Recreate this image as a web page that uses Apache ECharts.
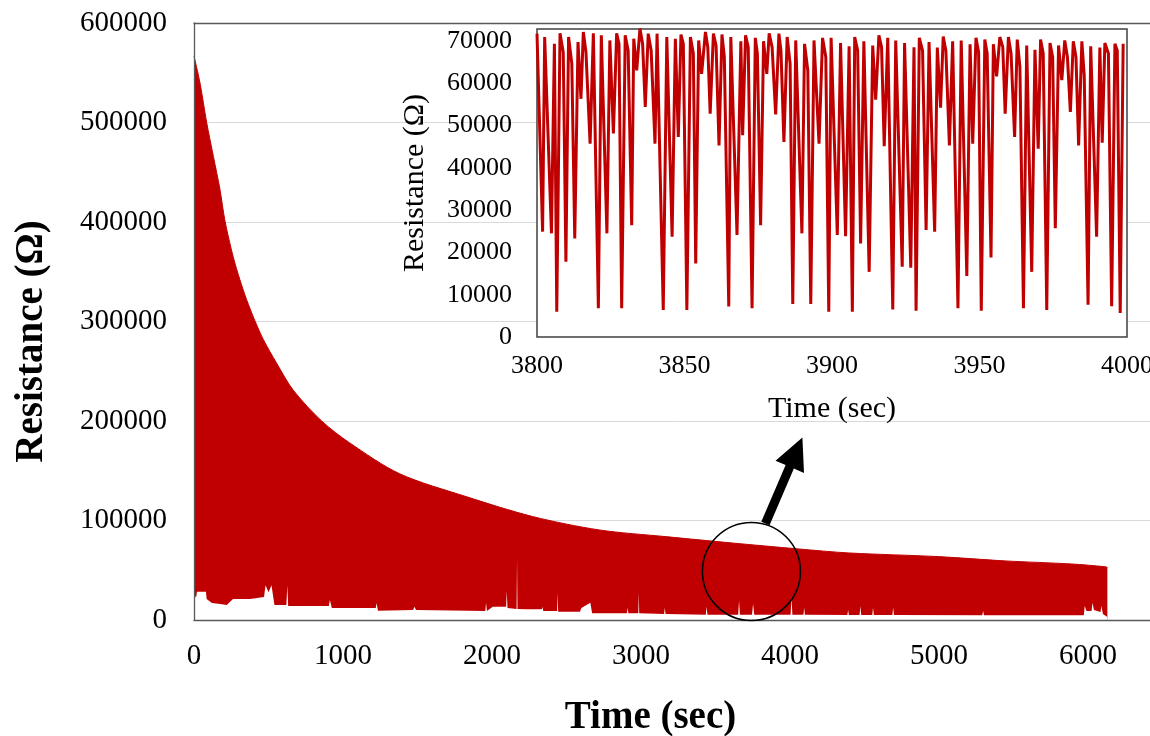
<!DOCTYPE html>
<html><head><meta charset="utf-8">
<script src="https://cdn.jsdelivr.net/npm/echarts@6/dist/echarts.min.js"></script>
<style>html,body{margin:0;padding:0;background:#fff;}#c{width:1150px;height:736px;}</style>
</head><body><div id="c"></div>
<script>
// ---- Main chart: upper envelope of the dense oscillation (sec, Ohm) ----
const upperTime = [0, 40, 85, 130, 174, 208, 263, 308, 353, 408, 465, 555, 666, 857, 1045, 1380, 1827, 2272, 2720, 3166, 3612, 4059, 4394, 4997, 5443, 5890, 6113, 6130];
const upperValue = [567000, 540000, 500000, 466000, 433000, 401000, 365000, 342000, 322000, 301000, 282000, 258000, 231000, 200000, 178000, 147000, 124000, 104000, 90500, 83800, 77400, 71400, 67400, 63700, 59400, 56300, 53600, 53000];
// ---- Main chart: lower envelope (minima) ----
const lowerTime = [0, 15, 20, 80, 85, 120, 175, 220, 262, 376, 470, 480, 500, 520, 540, 620, 626, 632, 905, 912, 925, 1220, 1225, 1235, 1470, 1480, 1490, 1955, 1960, 1966, 2005, 2075, 2095, 2099, 2104, 2165, 2168, 2171, 2230, 2335, 2339, 2344, 2437, 2440, 2444, 2590, 2600, 2660, 2666, 2672, 2905, 2910, 2915, 2982, 2985, 2988, 3155, 3160, 3165, 3435, 3440, 3446, 3652, 3658, 3664, 3745, 3752, 3760, 4004, 4010, 4016, 4090, 4095, 4100, 4385, 4390, 4395, 4467, 4472, 4478, 4552, 4557, 4563, 4687, 4692, 4698, 5290, 5296, 5302, 5972, 5978, 5990, 6024, 6030, 6040, 6084, 6090, 6100, 6130];
const lowerValue = [23400, 23400, 28500, 28500, 21000, 17000, 16000, 15000, 21000, 21000, 23000, 35000, 28000, 35000, 15000, 15000, 35000, 14000, 14000, 20000, 12000, 12000, 17000, 9400, 10000, 13400, 10000, 9000, 17400, 9000, 13400, 13400, 13400, 29500, 12000, 11000, 62000, 11000, 10700, 10700, 13400, 9000, 9000, 27500, 8400, 8400, 12000, 17400, 17400, 6700, 6700, 12400, 6700, 6700, 27800, 6700, 6000, 12400, 6000, 5300, 13400, 5300, 5300, 19000, 5300, 5300, 16000, 5300, 5300, 23400, 5300, 5300, 12400, 5300, 5000, 10000, 5000, 5000, 14000, 5000, 5000, 12400, 5000, 5000, 12400, 5000, 4700, 9000, 4700, 4700, 14000, 9000, 9000, 17400, 10000, 8000, 14000, 6000, 3000];
// ---- Inset: 3800-4000 sec detail ----
const insetTime = [3800.0, 3801.9, 3802.6, 3804.9, 3805.9, 3806.7, 3807.8, 3808.9, 3809.8, 3810.7, 3811.8, 3812.8, 3813.9, 3814.9, 3815.7, 3816.6, 3818.0, 3819.1, 3820.8, 3821.8, 3823.7, 3824.7, 3825.9, 3827.0, 3827.8, 3828.7, 3829.9, 3830.9, 3832.1, 3832.8, 3833.8, 3834.9, 3835.8, 3836.7, 3837.7, 3838.7, 3840.0, 3840.7, 3842.8, 3844.0, 3845.8, 3846.9, 3847.9, 3848.8, 3849.6, 3850.8, 3852.0, 3853.0, 3853.8, 3854.8, 3855.8, 3857.1, 3857.9, 3858.7, 3859.8, 3860.7, 3861.7, 3862.7, 3863.5, 3865.0, 3865.7, 3867.8,
  3869.1, 3869.7, 3870.7, 3871.6, 3872.9, 3874.0, 3874.7, 3875.8, 3876.8, 3877.9, 3878.7, 3879.7, 3880.9, 3882.0, 3882.7, 3883.7, 3884.8, 3885.8, 3886.7, 3887.7, 3889.8, 3890.7, 3891.8, 3892.8, 3893.9, 3895.6, 3896.8, 3897.9, 3898.9, 3899.7, 3901.8, 3902.9, 3904.6, 3905.8, 3906.9, 3907.7, 3908.7, 3909.7, 3910.8, 3912.6, 3913.8, 3914.8, 3915.9, 3916.8, 3917.7, 3918.9, 3920.6, 3921.6, 3923.8, 3924.6, 3926.7, 3927.8, 3928.5, 3929.6, 3930.7, 3931.9, 3932.9, 3934.8, 3935.7,
  3936.8, 3937.7, 3938.6, 3939.8, 3940.9, 3942.7, 3943.8, 3945.7, 3946.8, 3947.7, 3948.8, 3949.7, 3950.6, 3951.8, 3952.6, 3953.9, 3954.7, 3955.8, 3956.9, 3957.9, 3958.7, 3959.8, 3960.7, 3961.9, 3962.8, 3963.7, 3964.9, 3966.0, 3967.7, 3968.8, 3969.9, 3970.7, 3971.6, 3972.8, 3973.9, 3974.8, 3975.7, 3976.8, 3977.9, 3978.9, 3979.8, 3980.8, 3981.8, 3982.7, 3983.6, 3984.7, 3985.5, 3986.8, 3987.7, 3989.7, 3990.8, 3991.6, 3992.5, 3993.7, 3994.8, 3995.9, 3996.7, 3997.7, 3998.7];
const insetValue = [71700, 24900, 70900, 24500, 69300, 6000, 71800, 67300, 17800, 70900, 64600, 23300, 69700, 56300, 72100, 67300, 45700, 71800, 6800, 71300, 24500, 70100, 48100, 71800, 69300, 6800, 71300, 67700, 26400, 70500, 63000, 72900, 69300, 54400, 71700, 67700, 45700, 71700, 6400, 70900, 23700, 70500, 47300, 71500, 69300, 6400, 70900, 67000, 17400, 70100, 62200, 72100, 68500, 52800, 71700, 68900, 45300, 71500, 66200, 7200, 70900, 24100,
  69900, 47700, 71300, 68500, 6800, 70700, 67000, 26400, 69900, 62200, 71800, 68500, 52600, 71700, 67700, 46100, 70900, 64600, 7800, 70100, 24500, 69300, 63000, 7800, 70100, 45700, 70700, 66200, 6000, 70700, 24100, 69500, 23800, 68700, 6000, 70900, 67700, 22100, 69900, 15400, 68900, 56100, 71300, 68500, 45100, 70700, 6500, 70100, 16600, 69500, 16400, 68500, 6200, 70700, 67700, 25300, 69700, 24900, 68400,
  54200, 71000, 67700, 45300, 69900, 6800, 70100, 14400, 69200, 45700, 70700, 67300, 6200, 70300, 67000, 18800, 69200, 61600, 70900, 68500, 52800, 70900, 67000, 47300, 70300, 63800, 6800, 68900, 15400, 67900, 44500, 70300, 67000, 6400, 69500, 66200, 25700, 68900, 60700, 70100, 66200, 53200, 69900, 66200, 45300, 69900, 61800, 7600, 68700, 23700, 68400, 45900, 69500, 67000, 7300, 69300, 67700, 5700, 69300];
// annotation anchor (zoomed region marked on main chart), data coords
const zoomMarkCenter = [3741, 48800];

const RED = '#C00000';
const FONT = "'Liberation Serif','Times New Roman',serif";
const zip = (a, b) => a.map((x, i) => [x, b[i]]);
const plain = v => String(v);

const chart = echarts.init(document.getElementById('c'), null, {renderer: 'canvas'});
const axisDark = {color: '#595959', width: 1.3};
const option = {
  animation: false,
  textStyle: {fontFamily: FONT},
  grid: [
    {left: 194, top: 23, width: 1043, height: 597, containLabel: false, outerBoundsMode: 'none'},
    {left: 537, top: 29, width: 590, height: 308, containLabel: false, outerBoundsMode: 'none', show: true, backgroundColor: '#ffffff', borderColor: '#404040', borderWidth: 1.5, z: 1}
  ],
  xAxis: [
    {type: 'value', gridIndex: 0, min: 0, max: 7000, interval: 1000, z: 10,
     axisLine: {show: true, onZero: false, lineStyle: axisDark}, axisTick: {show: false}, splitLine: {show: false},
     axisLabel: {fontFamily: FONT, fontSize: 29, color: '#000', margin: 22, formatter: plain},
     name: 'Time (sec)', nameLocation: 'middle', nameGap: 78,
     nameTextStyle: {fontFamily: FONT, fontSize: 39, fontWeight: 'bold', color: '#000', padding: [0, 130, 0, 0]}},
    {type: 'value', gridIndex: 0, position: 'top', min: 0, max: 7000, z: 10,
     axisLine: {show: true, onZero: false, lineStyle: axisDark}, axisTick: {show: false}, axisLabel: {show: false}, splitLine: {show: false}},
    {type: 'value', gridIndex: 1, min: 3800, max: 4000, interval: 50,
     axisLine: {show: false}, axisTick: {show: false}, splitLine: {show: false},
     axisLabel: {fontFamily: FONT, fontSize: 26, color: '#000', margin: 16, formatter: plain},
     name: 'Time (sec)', nameLocation: 'middle', nameGap: 57,
     nameTextStyle: {fontFamily: FONT, fontSize: 30, color: '#000'}}
  ],
  yAxis: [
    {type: 'value', gridIndex: 0, min: 0, max: 600000, interval: 100000,
     axisLine: {show: false}, axisTick: {show: false},
     splitLine: {show: true, lineStyle: {color: '#d9d9d9', width: 1}},
     axisLabel: {fontFamily: FONT, fontSize: 29, color: '#000', margin: 27, formatter: plain},
     name: 'Resistance (Ω)', nameLocation: 'middle', nameGap: 143,
     nameTextStyle: {fontFamily: FONT, fontSize: 39, fontWeight: 'bold', color: '#000', padding: [0, 40, 0, 0]}},
    {type: 'value', gridIndex: 1, min: 0, max: 72800, interval: 10000,
     axisLine: {show: false}, axisTick: {show: false}, splitLine: {show: false},
     axisLabel: {fontFamily: FONT, fontSize: 26, color: '#000', margin: 25, showMaxLabel: false, formatter: plain},
     name: 'Resistance (Ω)', nameLocation: 'middle', nameGap: 107,
     nameTextStyle: {fontFamily: FONT, fontSize: 30, color: '#000'}},
    {type: 'value', gridIndex: 0, position: 'left', min: 0, max: 600000, z: 10,
     axisLine: {show: true, onZero: false, lineStyle: axisDark}, axisTick: {show: false}, axisLabel: {show: false}, splitLine: {show: false}}
  ],
  series: [
    {type: 'line', xAxisIndex: 0, yAxisIndex: 0, data: zip(upperTime, upperValue), showSymbol: false,
     smooth: 0.3,
     lineStyle: {color: RED, width: 1}, areaStyle: {color: RED, opacity: 1}, z: 2, silent: true},
    {type: 'line', xAxisIndex: 0, yAxisIndex: 0, data: zip(lowerTime, lowerValue), showSymbol: false,
     lineStyle: {width: 0, color: '#ffffff'}, areaStyle: {color: '#ffffff', opacity: 1}, z: 3, silent: true},
    {type: 'line', xAxisIndex: 2, yAxisIndex: 1, data: zip(insetTime, insetValue), showSymbol: false,
     lineStyle: {color: RED, width: 3}, z: 5, silent: true}
  ]
};
chart.setOption(option);

// circle + arrow annotation anchored on the data region
const c = chart.convertToPixel({xAxisIndex: 0, yAxisIndex: 0}, zoomMarkCenter);
const r = 49;
const tail = [c[0] + 14, c[1] - 48];
const tip = [c[0] + 51, c[1] - 134];
const dx = tip[0] - tail[0], dy = tip[1] - tail[1];
const L = Math.hypot(dx, dy), ux = dx / L, uy = dy / L, nx = -uy, ny = ux;
const headLen = 32, headHalf = 15.5, shaftHalf = 4.5;
const bx = tip[0] - ux * headLen, by = tip[1] - uy * headLen;
const arrowPts = [
  [tail[0] + nx * shaftHalf, tail[1] + ny * shaftHalf],
  [bx + nx * shaftHalf, by + ny * shaftHalf],
  [bx + nx * headHalf, by + ny * headHalf],
  tip,
  [bx - nx * headHalf, by - ny * headHalf],
  [bx - nx * shaftHalf, by - ny * shaftHalf],
  [tail[0] - nx * shaftHalf, tail[1] - ny * shaftHalf]
];
chart.setOption({
  graphic: [
    {type: 'circle', shape: {cx: c[0], cy: c[1], r: r}, style: {fill: 'none', stroke: '#000', lineWidth: 1.6}, z: 20, silent: true},
    {type: 'polygon', shape: {points: arrowPts}, style: {fill: '#000'}, z: 20, silent: true}
  ]
});
</script></body></html>
